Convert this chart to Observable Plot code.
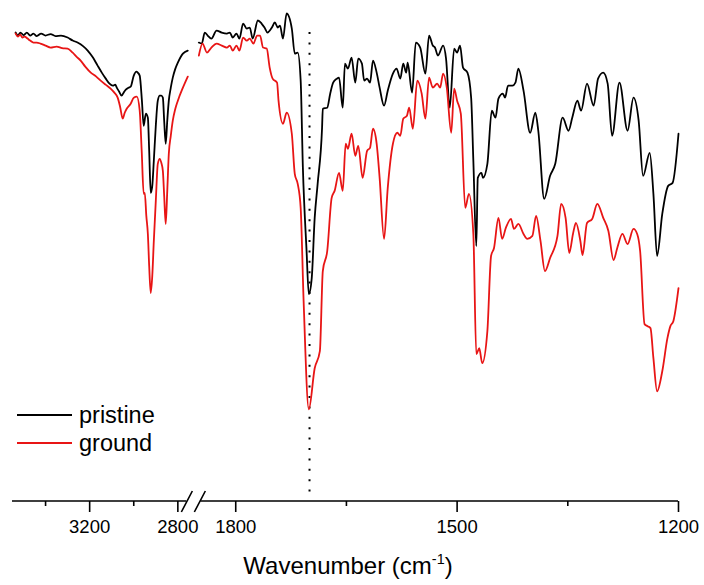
<!DOCTYPE html>
<html><head><meta charset="utf-8">
<script src="https://cdn.jsdelivr.net/npm/d3@7"></script>
<script src="https://cdn.jsdelivr.net/npm/@observablehq/plot@0.6"></script>
<style>
body{margin:0;background:#fff;font-family:"Liberation Sans",Arial,sans-serif;}
#wrap{position:relative;width:704px;height:585px;overflow:hidden;}
#legend{position:absolute;left:17px;top:401px;font-size:23.5px;color:#000;line-height:28px;}
.row{display:flex;align-items:center;height:28px;}
.sw{width:55px;height:2px;margin-right:7px;}
#xtitle{position:absolute;left:12px;width:672px;top:552px;text-align:center;font-size:24px;color:#000;}
#xtitle sup{font-size:0.6em;vertical-align:0.7em;line-height:0;}
</style></head><body>
<div id="wrap"><div id="chart"></div><div id="legend"></div><div id="xtitle">Wavenumber (cm<sup>-1</sup>)</div></div>
<script>
// x-axis segments (wavenumber, cm-1) of the broken axis
const leftDomain = [3550, 2750];
const rightDomain = [1850, 1200];
const majorTicks = [3200, 2800, 1800, 1500, 1200];
const minorTicks = [3400, 3000, 1650, 1350];
const markerWavenumber = 1700;
const seriesNames = ["pristine", "ground"];
const seriesColors = ["#000000", "#e81515"];

// [wavenumber, transmittance (a.u.)]
const pristineHigh = [
  [3536,93.6],[3525,93.0],[3514,93.6],[3500,93.1],[3485,93.6],[3470,93.0],[3455,93.4],[3440,92.9],
  [3420,93.4],[3400,93.0],[3377,93.3],[3355,92.9],[3330,93.0],[3300,92.6],[3277,92.0],[3255,91.6],
  [3230,90.9],[3209,90],[3185,88.6],[3164,87],[3145,85.6],[3127,84.4],[3110,83.4],[3095,83],[3084,83.2],
  [3077,82.6],[3066,81.8],[3055,81],[3046,81.6],[3036,82.2],[3024,82.6],[3014,82.8],[3000,85],[2988,85.8],
  [2982,85.6],[2973,85],[2963,80],[2955,75],[2945,77.4],[2936,76.6],[2930,70],[2923,61.6],[2916,63],
  [2909,68],[2900,75],[2891,80],[2882,81],[2875,81],[2868,80.6],[2862,76],[2855,71.4],[2848,76],
  [2841,80],[2832,82.6],[2823,84.6],[2812,86.3],[2800,87.6],[2777,89.4],[2755,90]
];
const groundHigh = [
  [3536,93.4],[3525,92.8],[3515,93.2],[3505,92.6],[3495,92.8],[3482,92.4],[3470,92.0],[3455,91.6],
  [3440,91.6],[3423,91.4],[3400,91.0],[3377,90.6],[3350,90.8],[3325,90.5],[3300,90.4],[3277,89.6],
  [3260,88.8],[3241,88],[3220,86.8],[3195,85.6],[3170,84.8],[3150,84],[3128,83.2],[3105,82.4],
  [3088,81.6],[3073,80.6],[3062,78.8],[3050,76.4],[3041,77.6],[3032,78.4],[3014,79.4],[3000,80.6],
  [2986,80.8],[2973,78],[2964,70],[2955,61.4],[2950,61.6],[2943,57],[2936,53.4],[2930,47],[2923,41.6],
  [2916,45],[2909,52],[2900,60],[2891,67.4],[2882,68.4],[2875,67.6],[2868,66],[2862,61],[2855,55.4],
  [2848,62],[2841,69.4],[2832,73],[2823,76],[2812,78.3],[2800,80],[2777,82.6],[2755,84.8]
];
const pristineLow = [
  [1850,91.6],[1846,91.4],[1842,93.6],[1838,93],[1833,92.4],[1826,94],[1819,93.6],[1812,93.4],[1808,93.6],
  [1804,92.6],[1799,93.4],[1795,92.4],[1790,95.4],[1785,94.4],[1781,94.6],[1777,92.4],[1770,96],[1765,95.4],
  [1761,94.6],[1757,93.6],[1751,94.6],[1747,95.6],[1743,94.6],[1740,95],[1736,92.4],[1731,97.4],[1724,94.4],
  [1720,89.4],[1716,89.6],[1712,84],[1709,66.6],[1704,50],[1701,41.4],[1697,44.6],[1693,56.6],[1689,63.4],
  [1683,74.6],[1682,78.4],[1676,78.6],[1672,81.4],[1668,83.6],[1663,84.4],[1660,84.6],[1655,78.6],[1652,87.4],
  [1648,86.4],[1643,88.6],[1638,83.6],[1634,88.4],[1629,87.4],[1626,84],[1622,84.4],[1618,83.6],[1614,88],
  [1609,85.6],[1605,82.6],[1599,79],[1594,82],[1587,85.4],[1582,86.4],[1577,84.4],[1573,87.4],[1569,85.6],
  [1567,87.6],[1561,81.6],[1556,91.6],[1550,90.6],[1543,85.4],[1538,93],[1533,91],[1530,90.6],[1526,89],
  [1519,91],[1515,88.4],[1510,78.6],[1504,90.4],[1500,89.6],[1496,91],[1492,86.6],[1486,85.6],[1481,80.6],
  [1478,68],[1474,51],[1472,64.6],[1467,65.6],[1465,64.6],[1459,67.4],[1453,78],[1448,76.6],[1444,80.4],
  [1438,81.4],[1435,80.6],[1431,83],[1425,83],[1421,83.6],[1417,86.4],[1410,82],[1401,73.6],[1394,77.6],
  [1390,74],[1382,60.4],[1374,65],[1367,67.4],[1357,76.6],[1349,74],[1344,76.6],[1337,80],[1332,78],
  [1324,83.4],[1315,79],[1309,84.4],[1302,85.6],[1296,83.4],[1290,73],[1280,83.6],[1269,74],[1261,80.6],
  [1254,76],[1248,65],[1239,69.6],[1234,61.4],[1229,49],[1222,57.4],[1214,63],[1208,63.6],[1200,73.4]
];
const groundLow = [
  [1850,89],[1845,91.4],[1839,89.6],[1833,90.6],[1826,91.4],[1819,91],[1812,90.6],[1808,91],[1804,90],
  [1799,91],[1795,90],[1790,92.6],[1785,92],[1781,92.4],[1776,91.4],[1771,93],[1767,93],[1763,90.6],
  [1758,90.4],[1754,86.6],[1750,84.4],[1744,83.6],[1742,80],[1736,75.4],[1731,77.6],[1724,73.4],[1720,65.4],
  [1716,63.4],[1712,58.6],[1708,40],[1701,18.4],[1693,26.6],[1686,30],[1682,46],[1676,50],[1670,60.6],
  [1666,62],[1660,65.6],[1655,62],[1651,71.4],[1648,70.4],[1643,73.4],[1638,69],[1634,71],[1628,64.6],
  [1622,70],[1618,70.6],[1614,74.4],[1609,71.4],[1605,64.6],[1599,52.4],[1594,62.6],[1587,71.4],[1581,73.6],
  [1577,73],[1573,76.4],[1568,77],[1565,78.6],[1560,74.4],[1554,84],[1548,81.4],[1543,76.4],[1538,84.6],
  [1533,82.6],[1527,83.4],[1523,82.6],[1519,85.4],[1514,82.6],[1508,73.6],[1504,82.4],[1500,80],[1495,77.4],
  [1489,58.6],[1484,61.4],[1478,53.4],[1474,29.4],[1470,30.6],[1466,27.6],[1459,34],[1454,49],[1450,50.6],
  [1444,56.6],[1439,52.4],[1434,54.6],[1427,56.4],[1423,54.4],[1417,55.4],[1410,53.4],[1405,52.4],[1398,53],
  [1393,57],[1387,52],[1381,46],[1374,48.6],[1364,53],[1359,59.4],[1353,56.6],[1348,49.6],[1343,53.4],
  [1339,55.6],[1333,52],[1330,49.2],[1324,55.6],[1317,56.4],[1310,59.4],[1302,56.6],[1295,54],[1288,48.2],
  [1283,50.6],[1276,53.4],[1269,51.4],[1261,54.4],[1256,53.4],[1252,50],[1246,35.4],[1242,35],[1238,34.6],
  [1234,28.6],[1229,22],[1222,26],[1215,32.6],[1211,35],[1207,36],[1200,42.6]
];

// Broken axis: the high-wavenumber segment is compressed relative to the low one,
// with a small gap for the break. breakScale maps wavenumber -> continuous axis units.
const breakScale = d3.scaleLinear()
  .domain([leftDomain[0], leftDomain[1], rightDomain[0], rightDomain[1]])
  .range([0, 239, 252.5, 902.5]);
const axisExtent = [0, 902.5];

const segments = [
  {series: "pristine", part: "high", pts: pristineHigh},
  {series: "pristine", part: "low", pts: pristineLow},
  {series: "ground", part: "high", pts: groundHigh},
  {series: "ground", part: "low", pts: groundLow}
];
const rows = segments.flatMap(s => s.pts.map(([wn, t]) => ({wn, u: breakScale(wn), t, series: s.series, key: s.series + "-" + s.part})));
const tickLabel = new Map(majorTicks.map(t => [breakScale(t), String(t)]));

function brokenAxis(index, scales, values, dims) {
  const x = scales.x;
  const y0 = dims.height - dims.marginBottom;
  const c = (x(breakScale(leftDomain[1])) + x(breakScale(rightDomain[0]))) / 2;
  const g = d3.create("svg:g").attr("stroke", "#000").attr("fill", "none").attr("stroke-width", 1.6);
  g.append("path").attr("d", `M${x(axisExtent[0])},${y0}H${c - 7}M${c + 7},${y0}H${x(axisExtent[1])}`);
  g.append("path").attr("d", `M${c - 12},${y0 + 11}L${c - 1},${y0 - 10}M${c + 1},${y0 + 11}L${c + 12},${y0 - 10}`);
  return g.node();
}

const chart = Plot.plot({
  width: 704,
  height: 545,
  marginTop: 10,
  marginBottom: 44,
  marginLeft: 12,
  marginRight: 26,
  style: {fontFamily: "'Liberation Sans', Arial, sans-serif", background: "#fff", color: "#000"},
  x: {domain: axisExtent, label: null},
  y: {domain: [0, 98], axis: null, label: null},
  color: {domain: seriesNames, range: seriesColors},
  marks: [
    Plot.ruleX([breakScale(markerWavenumber)], {stroke: "#000", strokeWidth: 2, strokeDasharray: "2,8.4", insetTop: 22, insetBottom: 8}),
    Plot.line(rows, {x: "u", y: "t", z: "key", stroke: "series", strokeWidth: 1.8, curve: "monotone-x"}),
    brokenAxis,
    Plot.axisX(majorTicks.map(breakScale), {tickSize: 11, tickPadding: 7, tickFormat: u => tickLabel.get(u), fontSize: 18.5, stroke: "#000", strokeWidth: 1.6, label: null}),
    Plot.axisX(minorTicks.map(breakScale), {tickSize: 5, tickFormat: () => "", stroke: "#000", strokeWidth: 1.6, label: null})
  ]
});
document.getElementById("chart").appendChild(chart);

const legend = document.getElementById("legend");
seriesNames.forEach((name, i) => {
  const row = document.createElement("div");
  row.className = "row";
  const sw = document.createElement("span");
  sw.className = "sw";
  sw.style.background = seriesColors[i];
  const label = document.createElement("span");
  label.textContent = name;
  row.appendChild(sw);
  row.appendChild(label);
  legend.appendChild(row);
});
</script>
</body></html>
